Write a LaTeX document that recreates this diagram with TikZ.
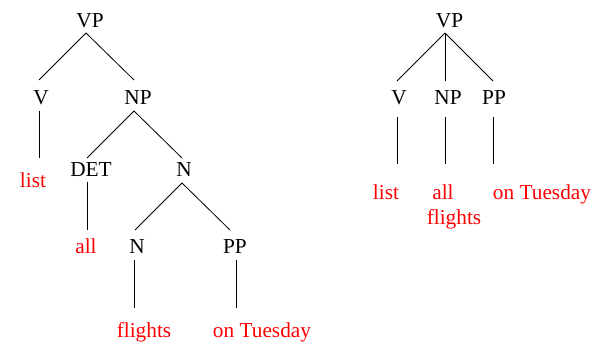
\documentclass[tikz,border=0pt]{standalone}
\usepackage{fontspec}
\setmainfont{Liberation Serif}
\begin{document}
\begin{tikzpicture}[x=1pt,y=-1pt,
  lab/.style={anchor=base,inner sep=0pt,outer sep=0pt,font=\fontsize{21.3}{24}\selectfont},
  cat/.style 2 args={lab,text height=#1pt,text depth=#2pt},
  word/.style={lab,text=red,text height=#1pt,text depth=0pt},
  edge/.style={line width=0.8pt,black}]
\useasboundingbox (0,0) rectangle (600,342);
% left tree
\node[cat={16}{5}] (vp) at (90,28) {VP};
\node[cat={25}{6}] (v) at (41,105) {V};
\node[cat={25}{6}] (np) at (138,105) {NP};
\node[cat={19}{5}] (det) at (91,177) {DET};
\node[cat={19}{6}] (n) at (184,177) {N};
\node[cat={23}{7}] (n2) at (137,253) {N};
\node[cat={23}{7}] (pp) at (235,253) {PP};
\node[word=30] (list) at (33,188) {list};
\node[word=23] (all) at (86,253) {all};
\node[word=29] (flights) at (144,337) {flights};
\node[word=29] (tue) at (262,337) {on Tuesday};
\coordinate (vp-b) at ([xshift=-4pt]vp.south);
\coordinate (v-b) at ([xshift=-2pt]v.south);
\coordinate (np-b) at ([xshift=-4pt]np.south);
\coordinate (det-b) at ([xshift=-4pt]det.south);
\coordinate (n-b) at ([xshift=-2pt]n.south);
\coordinate (n2-b) at ([xshift=-3pt]n2.south);
\coordinate (pp-b) at ([xshift=1pt]pp.south);
\draw[edge] (vp-b) -- ([xshift=-2pt]v.north);
\draw[edge] (vp-b) -- ([xshift=-4pt]np.north);
\draw[edge] (np-b) -- ([xshift=-4pt]det.north);
\draw[edge] (np-b) -- ([xshift=-2pt]n.north);
\draw[edge] (n-b) -- ([xshift=-2pt]n2.north);
\draw[edge] (n-b) -- ([xshift=-5pt]pp.north);
\draw[edge] (v-b) -- (v-b |- list.north);
\draw[edge] (det-b) -- (det-b |- all.north);
\draw[edge] (n2-b) -- (n2-b |- flights.north);
\draw[edge] (pp-b) -- (pp-b |- tue.north);
% right tree
\node[cat={16}{5}] (rvp) at (449.5,28) {VP};
\node[cat={24}{12}] (rv) at (399,105) {V};
\node[cat={24}{12}] (rnp) at (448,105) {NP};
\node[cat={24}{12}] (rpp) at (494,105) {PP};
\node[word=36] (rlist) at (386,200) {list};
\node[word=36] (rall) at (443,200) {all};
\node[word=36] (rflights) at (454,224) {flights};
\node[word=36] (rtue) at (542,200) {on Tuesday};
\coordinate (rvp-b) at ([xshift=-4.5pt]rvp.south);
\coordinate (rv-b) at ([xshift=-2pt]rv.south);
\coordinate (rnp-b) at ([xshift=-3pt]rnp.south);
\coordinate (rpp-b) at ([xshift=-1pt]rpp.south);
\draw[edge] (rvp-b) -- ([xshift=-2pt]rv.north);
\draw[edge] (rvp-b) -- ([xshift=-3pt]rnp.north);
\draw[edge] (rvp-b) -- ([xshift=-1pt]rpp.north);
\draw[edge] (rv-b) -- (rv-b |- rlist.north);
\draw[edge] (rnp-b) -- (rnp-b |- rall.north);
\draw[edge] (rpp-b) -- (rpp-b |- rtue.north);
\end{tikzpicture}
\end{document}
